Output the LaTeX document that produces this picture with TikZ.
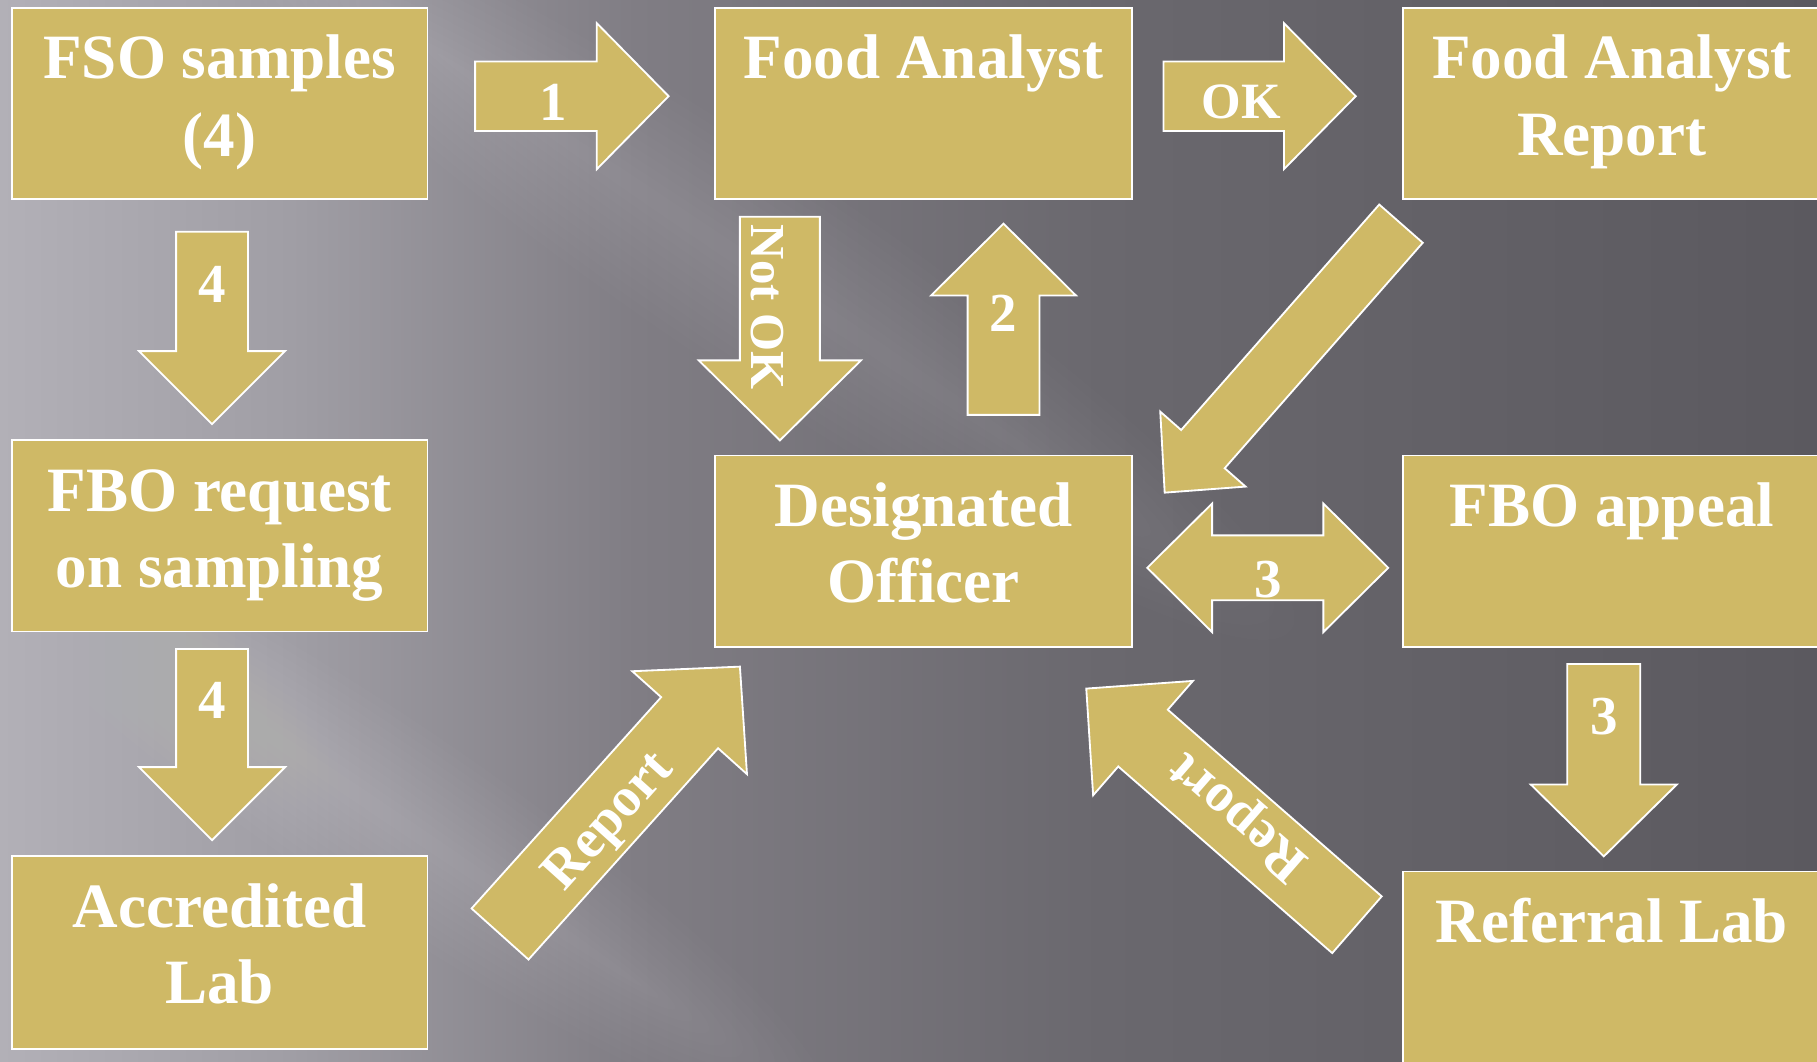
\documentclass[tikz,border=0pt]{standalone}
\usepackage{fontspec}
\setmainfont{Liberation Serif}
\definecolor{gold}{RGB}{207,185,102}
\definecolor{bg0}{RGB}{178,176,183}
\definecolor{bg1}{RGB}{160,158,165}
\definecolor{bg2}{RGB}{128,125,132}
\definecolor{bg3}{RGB}{106,104,110}
\definecolor{bg4}{RGB}{91,89,95}

% grey backdrop, light on the left, dark on the right
\pgfdeclarehorizontalshading{backdrop}{100bp}{color(0bp)=(bg0); color(25bp)=(bg0);
  color(33bp)=(bg1); color(42.5bp)=(bg2); color(55.3bp)=(bg3); color(75bp)=(bg4); color(100bp)=(bg4)}

% block arrow: tail point, canvas angle, length, shaft width, head width, head length
\newcommand\blockarrow[6]{%
  \begin{scope}[shift={#1}, rotate=#2]
    \draw[barrow] (0,{-#4/2}) -- ({#3-#6},{-#4/2}) -- ({#3-#6},{-#5/2}) -- (#3,0)
      -- ({#3-#6},{#5/2}) -- ({#3-#6},{#4/2}) -- (0,{#4/2}) -- cycle;
  \end{scope}}

% soft diagonal light streak: centre, half length, half width, opacity per layer
\newcommand\streak[4]{%
  \begin{scope}[shift={#1}, rotate=-34]
    \foreach \k in {1,...,12}
      \fill[white, opacity=#4] (0,0) ellipse [x radius={#2*(0.55+0.45*\k/12)*0.02cm}, y radius={#3*\k/12*0.02cm}];
  \end{scope}}

\begin{document}
\begin{tikzpicture}[x=0.02cm, y=-0.02cm,
  box/.style={draw=white, line width=0.9pt, fill=gold, inner sep=0pt, minimum width=7.18cm, minimum height=3.3cm},
  boxtxt/.style={text=white, font=\fontsize{31}{37}\selectfont\bfseries, anchor=base, inner sep=0pt},
  arrtxt/.style={text=white, font=\fontsize{27}{32}\selectfont\bfseries, inner sep=0pt},
  barrow/.style={draw=white, line width=0.9pt, fill=gold, line join=miter}]

\useasboundingbox (0,0) rectangle (1568,916);
\begin{scope}
\clip (0,0) rectangle (1568,916);

% background
\shade[shading=backdrop] (0,0) rectangle (1568,916);
\streak{(650,230)}{560}{90}{0.012}
\streak{(330,700)}{460}{80}{0.011}
\streak{(60,300)}{260}{120}{0.008}

% boxes
\node[box] (fso) at (189.5,89.5) {};
\node[box, minimum width=7.2cm] (fa) at (797,89.5) {};
\node[box, minimum width=7.2cm] (far) at (1391,89.5) {};
\node[box] (fboreq) at (189.5,462.5) {};
\node[box, minimum width=7.2cm] (do) at (797,475.5) {};
\node[box, minimum width=7.2cm] (fboapp) at (1391,475.5) {};
\node[box, minimum height=3.32cm] (acc) at (189.5,822) {};
\node[box, minimum width=7.2cm] (ref) at (1391,834.5) {};

% box texts
\node[boxtxt] (fso-a) at (fso.north |- 0,68) {FSO samples};
\node[boxtxt] (fso-b) at (fso.north |- 0,135) {(4)};
\node[boxtxt] (fa-a) at (fa.north |- 0,68) {Food Analyst};
\node[boxtxt] (far-a) at (far.north |- 0,68) {Food Analyst};
\node[boxtxt] (far-b) at (far.north |- 0,134) {Report};
\node[boxtxt] (fboreq-a) at (fboreq.north |- 0,441) {FBO request};
\node[boxtxt] (fboreq-b) at (fboreq.north |- 0,507) {on sampling};
\node[boxtxt] (do-a) at (do.north |- 0,454) {Designated};
\node[boxtxt] (do-b) at (do.north |- 0,520) {Officer};
\node[boxtxt] (fboapp-a) at (fboapp.north |- 0,454) {FBO appeal};
\node[boxtxt] (acc-a) at (acc.north |- 0,800) {Accredited};
\node[boxtxt] (acc-b) at (acc.north |- 0,866) {Lab};
\node[boxtxt] (ref-a) at (ref.north |- 0,813) {Referral Lab};

% block arrows
\blockarrow{(410,83)}{0}{167}{60}{126}{62}
\blockarrow{(1004,83)}{0}{166}{60}{126}{62}
\blockarrow{(183,200)}{-90}{166}{62}{126}{63}
\blockarrow{(183,560)}{-90}{165}{62}{126}{63}
\blockarrow{(673,187)}{-90}{193}{69}{140}{69}
\blockarrow{(866,358)}{90}{165}{62}{125}{62}
\blockarrow{(1384,573)}{-90}{166}{63}{126}{62}
\blockarrow{(1209,193)}{-131.3}{309}{50}{98}{50}
\blockarrow{(431.5,806)}{48.1}{310}{66}{133}{65}
\blockarrow{(1171,798)}{138.9}{310}{65}{131}{65}

% double-headed arrow between officer and appeal
\draw[barrow] (990,490) -- (1046,434.5) -- (1046,462) -- (1142,462) -- (1142,434.5) -- (1198,490)
  -- (1142,545.5) -- (1142,518) -- (1046,518) -- (1046,545.5) -- cycle;

% arrow labels
\node[arrtxt] (l1) at (477,88) {1};
\node[arrtxt, font=\fontsize{25}{30}\selectfont\bfseries] (lok) at (1071,88) {OK};
\node[arrtxt] (l4a) at (183,245) {4};
\node[arrtxt] (l4b) at (183,604) {4};
\node[arrtxt, font=\fontsize{24}{29}\selectfont\bfseries, rotate=-90] (lnok) at (662,265) {Not OK};
\node[arrtxt] (l2) at (866,270) {2};
\node[arrtxt] (l3a) at (1094,500) {3};
\node[arrtxt] (l3b) at (1384,618) {3};
\node[arrtxt, rotate=48.1] (lrep1) at (527,710) {Report};
\node[arrtxt, rotate=138.9] (lrep2) at (1070,703) {Report};
\end{scope}
\end{tikzpicture}
\end{document}
